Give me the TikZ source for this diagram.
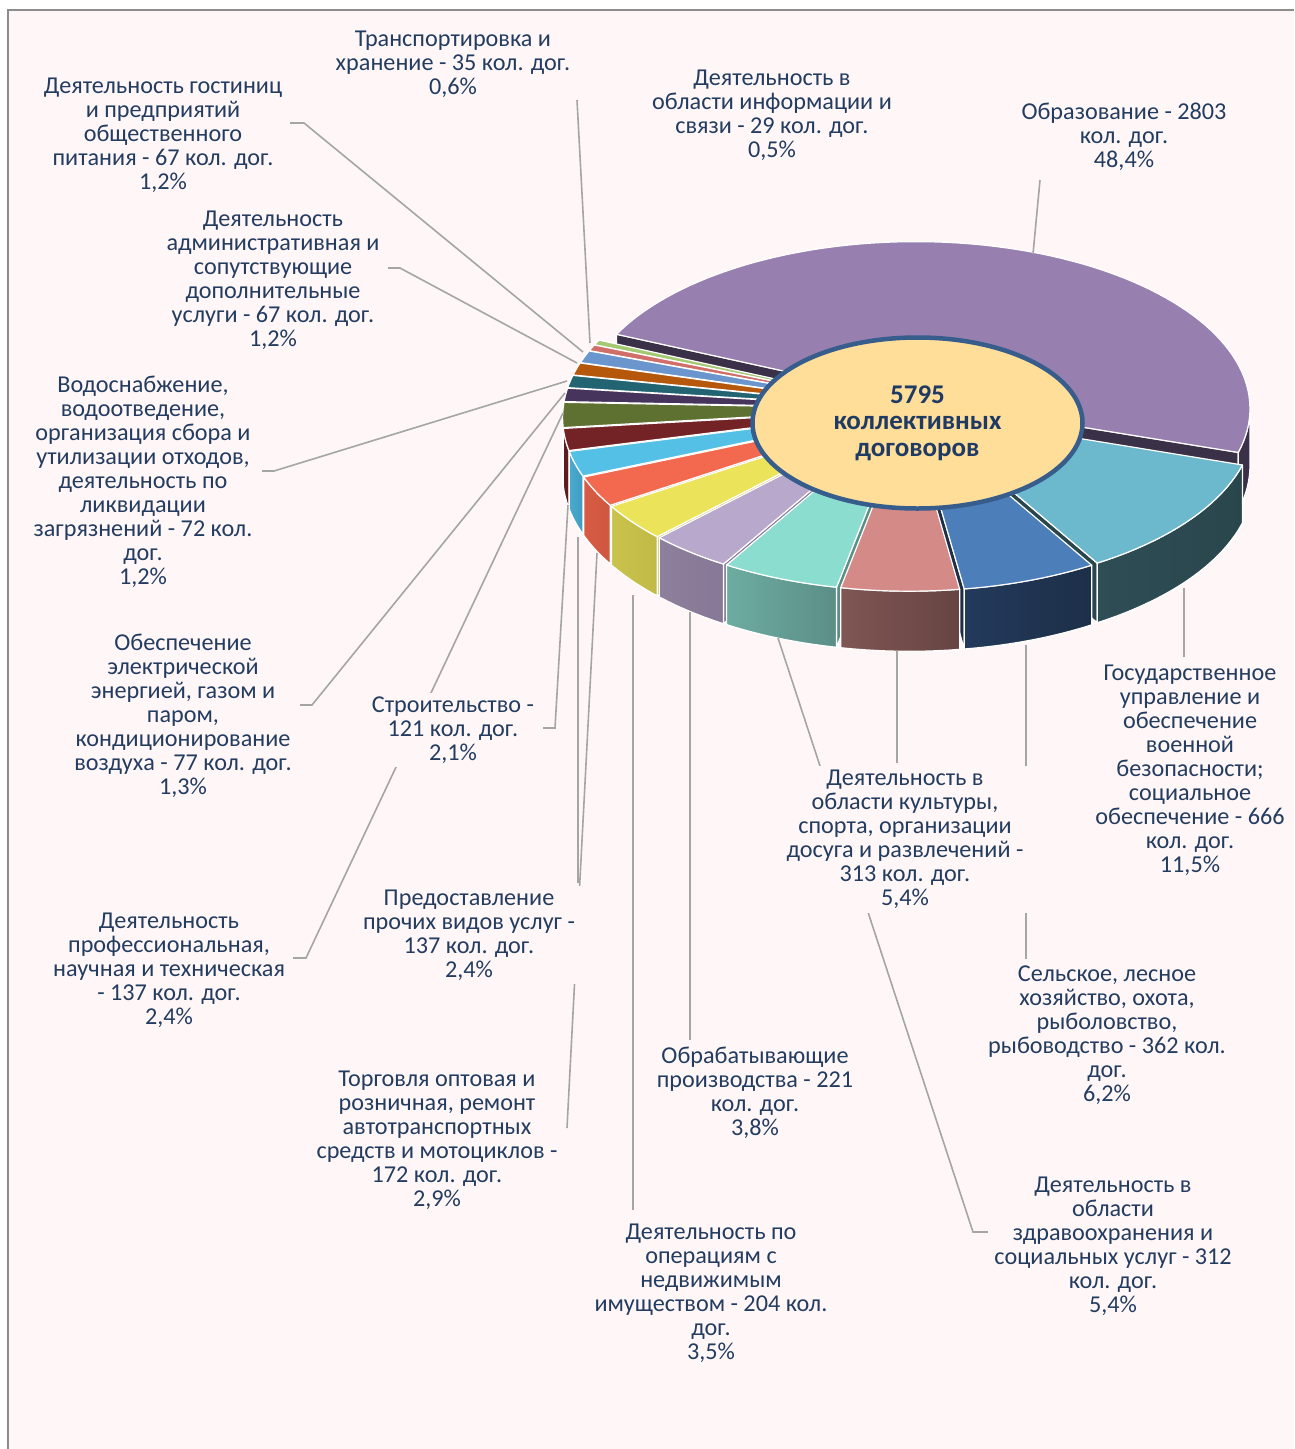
\documentclass[tikz,border=0pt]{standalone}
\usepackage{fontspec}
\setmainfont{Carlito}
\usetikzlibrary{shapes.geometric}
\definecolor{bgc}{HTML}{FFF7F7}
\definecolor{framec}{HTML}{8C8C8C}
\definecolor{txtc}{HTML}{233C60}
\definecolor{ldc}{HTML}{A5A5A5}
\definecolor{ctrF}{HTML}{FFDE9A}
\definecolor{ctrB}{HTML}{375D8C}
\definecolor{ctrT}{HTML}{1F3A63}
\definecolor{eduT}{HTML}{977FAF}\definecolor{eduS}{HTML}{3A3048}
\definecolor{staT}{HTML}{6CB9CD}\definecolor{staS}{HTML}{2E4D55}\definecolor{staR}{HTML}{2A464D}
\definecolor{agrT}{HTML}{4C7EBA}\definecolor{agrS}{HTML}{233A5C}\definecolor{agrR}{HTML}{1D2F48}
\definecolor{culT}{HTML}{D48A87}\definecolor{culS}{HTML}{7F5653}\definecolor{culR}{HTML}{664443}
\definecolor{heaT}{HTML}{8BDDD0}\definecolor{heaS}{HTML}{6DACA2}\definecolor{heaR}{HTML}{5B8E86}
\definecolor{manT}{HTML}{B7A8CC}\definecolor{manS}{HTML}{8D809C}\definecolor{manR}{HTML}{867896}
\definecolor{reaT}{HTML}{EBE45A}\definecolor{reaS}{HTML}{C9C24B}\definecolor{reaR}{HTML}{C1BA48}
\definecolor{traT}{HTML}{F26950}\definecolor{traS}{HTML}{D85B44}\definecolor{traR}{HTML}{CF573F}
\definecolor{othT}{HTML}{55C0E6}\definecolor{othS}{HTML}{4AAAD0}\definecolor{othR}{HTML}{3F9CC0}
\definecolor{conT}{HTML}{732326}\definecolor{conS}{HTML}{5E1C1F}
\definecolor{proT}{HTML}{5E7131}\definecolor{proS}{HTML}{4A5A27}
\definecolor{eleT}{HTML}{46345C}\definecolor{eleS}{HTML}{382A4A}
\definecolor{watT}{HTML}{236473}\definecolor{watS}{HTML}{1B505C}
\definecolor{admT}{HTML}{B6580C}\definecolor{admS}{HTML}{92460A}
\definecolor{hotT}{HTML}{6A96CD}\definecolor{hotS}{HTML}{5578A4}
\definecolor{trnT}{HTML}{D26E69}\definecolor{trnS}{HTML}{A85854}
\definecolor{infT}{HTML}{A5C873}\definecolor{infS}{HTML}{84A05C}
\def\CX{909.5}\def\CY{408.5}\def\RR{334.5}\def\KK{0.5}\def\PP{0.05}\def\HH{57}
\def\slEx{0}\def\slEy{0}
\newcommand\drawslice[7]{%
 \pgfmathsetmacro\slA{#1}%
 \pgfmathsetmacro\slB{#2}%
 \pgfmathsetmacro\slM{(\slA+\slB)/2}%
 \pgfmathsetmacro\slEx{#3*cos(\slM)}%
 \pgfmathsetmacro\slEy{#3*sin(\slM)}%
 \pgfmathsetmacro\slS{1/(1+\PP*\slEy/\RR)}%
 \pgfmathsetmacro\slCX{\CX+\slEx*\slS}%
 \pgfmathsetmacro\slCT{\CY-\KK*\slEy*\slS}%
 \pgfmathsetmacro\slCB{\CY+(\HH-\KK*\slEy)*\slS}%
 \pgfmathtruncatemacro\slN{max(4,(\slB-\slA)/2+2)}%
 \pgfmathsetmacro\slVA{max(\slA,-177.1)}%
 \pgfmathsetmacro\slVB{min(\slB,-2.9)}%
 \pgfmathtruncatemacro\slHas{\slVB>\slVA}%
 \pgfmathtruncatemacro\slVisA{cos(\slA)>0}%
 \pgfmathtruncatemacro\slVisB{cos(\slB)<0}%
 \ifnum\slVisA=1
  \filldraw[face,fill=#7] (\slCX,\slCT) -- ({rimx(\slA)},{rimyt(\slA)}) -- ({rimx(\slA)},{rimyb(\slA)}) -- (\slCX,\slCB) -- cycle;
 \fi
 \ifnum\slVisB=1
  \filldraw[face,fill=#7] (\slCX,\slCT) -- ({rimx(\slB)},{rimyt(\slB)}) -- ({rimx(\slB)},{rimyb(\slB)}) -- (\slCX,\slCB) -- cycle;
 \fi
 \ifnum\slHas=1
  \pgfmathtruncatemacro\slNs{max(4,(\slVB-\slVA)/2+2)}%
  \shadedraw[face,left color=#5,right color=#6] plot[domain=\slVA:\slVB,samples=\slNs,variable=\t] ({rimx(\t)},{rimyt(\t)}) -- plot[domain=0:1,samples=\slNs,variable=\q] ({rimx(\slVB-(\slVB-\slVA)*\q)},{rimyb(\slVB-(\slVB-\slVA)*\q)}) -- cycle;
 \fi
 \filldraw[face,fill=#4] (\slCX,\slCT) -- plot[domain=\slA:\slB,samples=\slN,variable=\t] ({rimx(\t)},{rimyt(\t)}) -- cycle;
}
\begin{document}
\begin{tikzpicture}[x=1pt,y=-1pt,
 declare function={
  rimv(\w)=\slEy+\RR*sin(\w);
  rims(\w)=1/(1+\PP*rimv(\w)/\RR);
  rimx(\w)=\CX+(\slEx+\RR*cos(\w))*rims(\w);
  rimyt(\w)=\CY-\KK*rimv(\w)*rims(\w);
  rimyb(\w)=\CY+(\HH-\KK*rimv(\w))*rims(\w);
 },
 face/.style={draw=white,line width=1.2pt,line join=round},
 leader/.style={draw=ldc,line width=1.6pt},
 lab/.style={fill=bgc,text=txtc,align=center,inner xsep=6pt,inner ysep=4pt,
   font=\fontsize{24.2}{24}\selectfont}]
\useasboundingbox (0,0) rectangle (1294,1449);
\fill[white] (0,0) rectangle (1294,1449);
\fill[bgc] (8,10) rectangle (1294,1449);
\draw[framec,line width=1.5pt] (8,1449) -- (8,10) -- (1294,10);
% pie slices, back to front
\drawslice{-18.04}{156.2}{18}{eduT}{eduS}{eduS}{eduS}
\drawslice{-203.8}{-202.0}{12}{infT}{infS}{infS}{infS}
\drawslice{-202.0}{-199.84}{12}{trnT}{trnS}{trnS}{trnS}
\drawslice{-199.84}{-195.52}{12}{hotT}{hotS}{hotS}{hotS}
\drawslice{-195.52}{-191.2}{12}{admT}{admS}{admS}{admS}
\drawslice{-191.2}{-186.88}{12}{watT}{watS}{watS}{watS}
\drawslice{-186.88}{-182.2}{12}{eleT}{eleS}{eleS}{eleS}
\drawslice{-182.2}{-173.56}{12}{proT}{proS}{proS}{proS}
\drawslice{-173.56}{-166.0}{12}{conT}{conS}{conS}{conS}
\drawslice{-166.0}{-157.36}{12}{othT}{othS}{othR}{othR}
\drawslice{-157.36}{-146.92}{12}{traT}{traS}{traR}{traR}
\drawslice{-146.92}{-134.32}{12}{reaT}{reaS}{reaR}{reaR}
\drawslice{-134.32}{-120.64}{12}{manT}{manS}{manR}{manR}
\drawslice{-120.64}{-101.2}{12}{heaT}{heaS}{heaR}{heaR}
\drawslice{-59.44}{-18.04}{12}{staT}{staS}{staR}{staR}
\drawslice{-81.76}{-59.44}{12}{agrT}{agrS}{agrR}{agrR}
\drawslice{-101.2}{-81.76}{12}{culT}{culS}{culR}{culR}
% centre label
\node[ellipse,draw=ctrB,line width=4.5pt,fill=ctrF,minimum width=330pt,minimum height=171pt,
  inner sep=0pt,align=center,text=ctrT,font=\fontsize{27}{26.5}\selectfont\bfseries]
  (ctr) at (917.5,423) {5795\\коллективных\\договоров};
% leader end points on the slices
\coordinate (pTrn) at (590,343);
\coordinate (pEdu) at (1033,254);
\coordinate (pHot) at (583,352);
\coordinate (pAdm) at (577,363);
\coordinate (pWat) at (567,381);
\coordinate (pEle) at (565,393);
\coordinate (pPro) at (563,413);
\coordinate (pCon) at (568,505);
\coordinate (pOth) at (578,537);
\coordinate (pTra) at (597,553);
\coordinate (pRea) at (633,595);
\coordinate (pMan) at (690,612);
\coordinate (pCul) at (897,651);
\coordinate (pHea) at (778,638);
\coordinate (pAgr) at (1026,645);
\coordinate (pSta) at (1184,588);
% leader end points at the labels
\coordinate (qTrn) at (577,100);
\coordinate (qEdu) at (1040,180);
\coordinate (qHot) at (290,123);
\coordinate (qAdm) at (388,268);
\coordinate (qWat) at (262,471);
\coordinate (qEle) at (300,705);
\coordinate (qPro) at (293,958);
\coordinate (qCon) at (543,728);
\coordinate (qOth) at (578,883);
\coordinate (qTra) at (567,1128);
\coordinate (qRea) at (633,1210);
\coordinate (qMan) at (690,1040);
\coordinate (qCul) at (897,763);
\coordinate (qHea) at (988,1232);
\coordinate (qAgr) at (1026,959);
\coordinate (qSta) at (1184,657);
% leader lines
\draw[leader] (qTrn) -- (pTrn);
\draw[leader] (qEdu) -- (pEdu);
\draw[leader] (qHot) -- ++(14,0) -- (pHot);
\draw[leader] (qAdm) -- ++(12,0) -- (pAdm);
\draw[leader] (qWat) -- ++(12,0) -- (pWat);
\draw[leader] (qEle) -- ++(12,0) -- (pEle);
\draw[leader] (qPro) -- ++(13,0) -- (pPro);
\draw[leader] (qCon) -- ++(12,0) -- (pCon);
\draw[leader] (qOth) -- (pOth);
\draw[leader] (qTra) -- (pTra);
\draw[leader] (qRea) -- (pRea);
\draw[leader] (qMan) -- (pMan);
\draw[leader] (qCul) -- (pCul);
\draw[leader] (qHea) -- ++(-15,0) -- (pHea);
\draw[leader] (qAgr) -- (pAgr);
\draw[leader] (qSta) -- (pSta);
% labels
\node[lab] (lTrn) at (453,64) {Транспортировка и\\хранение - 35 кол. дог.\\0,6\%};
\node[lab] (lInf) at (772,115) {Деятельность в\\области информации и\\связи - 29 кол. дог.\\0,5\%};
\node[lab] (lEdu) at (1124,137) {Образование - 2803\\кол. дог.\\48,4\%};
\node[lab] (lHot) at (163,135) {Деятельность гостиниц\\и предприятий\\общественного\\питания - 67 кол. дог.\\1,2\%};
\node[lab] (lAdm) at (273,280) {Деятельность\\административная и\\сопутствующие\\дополнительные\\услуги - 67 кол. дог.\\1,2\%};
\node[lab] (lWat) at (143,482) {Водоснабжение,\\водоотведение,\\организация сбора и\\утилизации отходов,\\деятельность по\\ликвидации\\загрязнений - 72 кол.\\дог.\\1,2\%};
\node[lab] (lEle) at (183,715.5) {Обеспечение\\электрической\\энергией, газом и\\паром,\\кондиционирование\\воздуха - 77 кол. дог.\\1,3\%};
\node[lab] (lCon) at (453,730) {Строительство -\\121 кол. дог.\\2,1\%};
\node[lab] (lPro) at (169,970) {Деятельность\\профессиональная,\\научная и техническая\\- 137 кол. дог.\\2,4\%};
\node[lab] (lOth) at (469,935) {Предоставление\\прочих видов услуг -\\137 кол. дог.\\2,4\%};
\node[lab] (lTra) at (437,1140) {Торговля оптовая и\\розничная, ремонт\\автотранспортных\\средств и мотоциклов -\\172 кол. дог.\\2,9\%};
\node[lab] (lRea) at (711,1293) {Деятельность по\\операциям с\\недвижимым\\имуществом - 204 кол.\\дог.\\3,5\%};
\node[lab] (lMan) at (755,1093) {Обрабатывающие\\производства - 221\\кол. дог.\\3,8\%};
\node[lab] (lCul) at (905,839.5) {Деятельность в\\области культуры,\\спорта, организации\\досуга и развлечений -\\313 кол. дог.\\5,4\%};
\node[lab] (lHea) at (1113,1246) {Деятельность в\\области\\здравоохранения и\\социальных услуг - 312\\кол. дог.\\5,4\%};
\node[lab] (lAgr) at (1107,1035) {Сельское, лесное\\хозяйство, охота,\\рыболовство,\\рыбоводство - 362 кол.\\дог.\\6,2\%};
\node[lab] (lSta) at (1190,770) {Государственное\\управление и\\обеспечение\\военной\\безопасности;\\социальное\\обеспечение - 666\\кол. дог.\\11,5\%};
\end{tikzpicture}
\end{document}
